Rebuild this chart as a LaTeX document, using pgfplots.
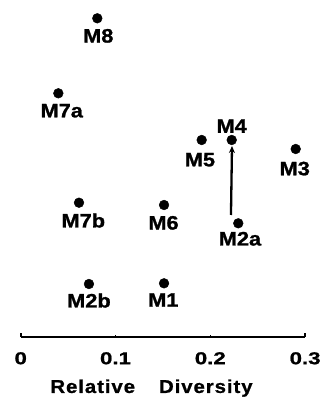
\documentclass[border=0pt]{standalone}
\usepackage{fontspec}
\setmainfont{Liberation Sans}
\newfontfamily\lblfam[FakeStretch=1.12,FakeBold=1.2]{Liberation Sans}
\newfontfamily\tickfam[FakeStretch=1.3,FakeBold=1]{Liberation Sans}
\newfontfamily\xlfam[FakeStretch=1.1,LetterSpace=5,FakeBold=1]{Liberation Sans}
\newcommand\lbl{\fontsize{19.5}{22}\selectfont\lblfam\bfseries}
\newcommand\tk{\fontsize{17.2}{20}\selectfont\tickfam\bfseries}
\newcommand\xl{\fontsize{18.6}{22}\selectfont\xlfam\bfseries}
\usepackage{pgfplots}
\pgfplotsset{compat=1.18}
\usetikzlibrary{arrows.meta}
\newcommand\pt[6]{\addplot[only marks, mark=*, mark size=4.9bp, black,
  nodes near coords={#3},
  every node near coord/.style={anchor=#4, inner sep=0pt, xshift=#5bp, yshift=#6bp, font=\lbl, text=black}]
  coordinates {(#1,#2)};}
\begin{document}
\begin{tikzpicture}
\begin{axis}[
  at={(0,0)}, anchor=south west,
  scale only axis, width=284.4bp, height=337bp,
  xmin=0, xmax=0.3, ymin=0, ymax=337,
  clip=false,
  axis x line*=bottom, axis y line=none,
  axis line style={line width=2bp, black},
  xtick={0,0.3},
  extra x ticks={0.1,0.2},
  extra x tick style={major tick length=2bp},
  xtick align=inside,
  major tick length=4.5bp,
  every tick/.style={black, line width=1.6bp},
  xticklabel={\tk\pgfmathprintnumber[assume math mode=true,fixed]{\tick}},
  xticklabel style={anchor=north, inner sep=0pt, yshift=-15bp},
  xlabel={\xl Relative\hspace{24bp}Diversity},
  xlabel style={at={(axis description cs:0,0)}, anchor=north, inner sep=0pt, xshift=130.8bp, yshift=-42.3bp},
]
\addplot[-{Stealth[length=7bp,width=6bp]}, line width=2.3bp, black] coordinates {(0.2218,122) (0.2229,191)};
\pt{0.0808}{318.7}{M8}{north}{1}{-10.5}
\pt{0.0397}{243.7}{M7a}{north}{3.4}{-10.5}
\pt{0.2226}{197}{M4}{south}{0}{7}
\pt{0.1909}{197}{M5}{north}{-1.7}{-12.8}
\pt{0.2901}{188}{M3}{north}{-1}{-12.5}
\pt{0.0615}{134.3}{M7b}{north}{4.3}{-10.5}
\pt{0.1512}{132}{M6}{north}{-0.5}{-10.8}
\pt{0.2295}{113.7}{M2a}{north}{1.7}{-8.4}
\pt{0.0720}{53}{M2b}{north}{0}{-9.2}
\pt{0.1512}{53.7}{M1}{north}{-0.7}{-9.8}
\end{axis}
\pgfresetboundingbox
\path[use as bounding box] (-20.7bp,-68bp) rectangle (304.3bp,337bp);
\end{tikzpicture}
\end{document}
